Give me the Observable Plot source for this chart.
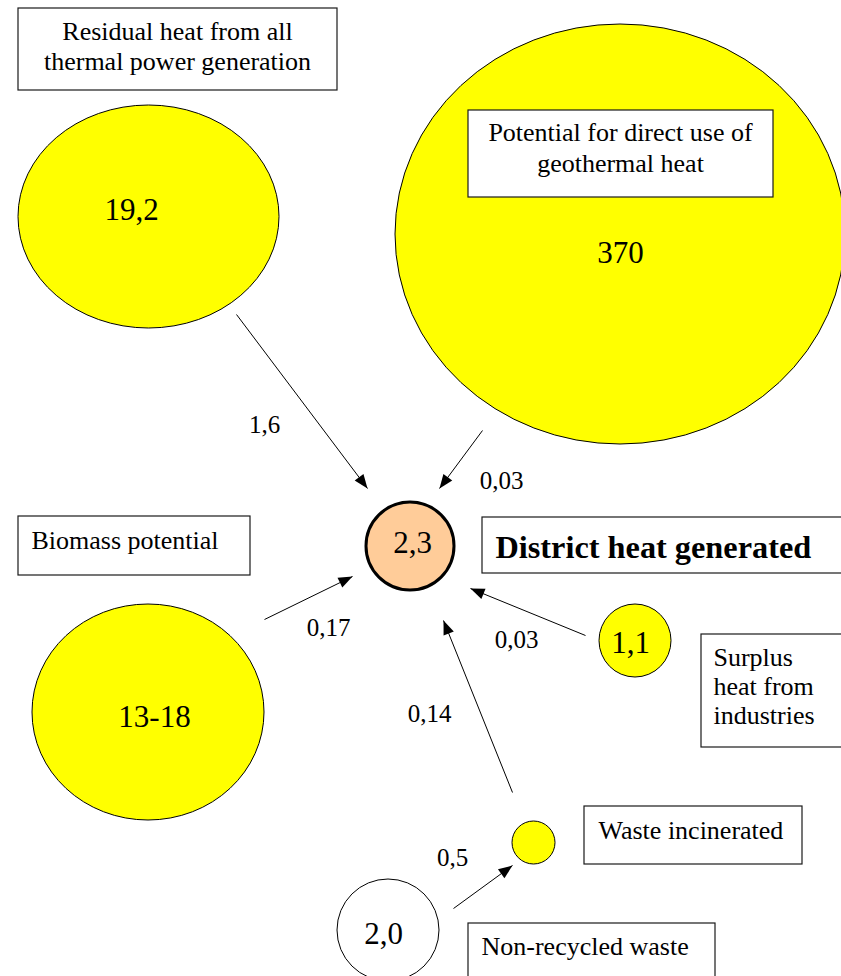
<!DOCTYPE html>
<html>
<head>
<meta charset="utf-8">
<script src="https://cdn.jsdelivr.net/npm/d3@7"></script>
<script src="https://cdn.jsdelivr.net/npm/@observablehq/plot@0.6"></script>
<style>
  html, body { margin: 0; padding: 0; background: #fff; overflow: hidden; }
</style>
</head>
<body>
<div id="chart"></div>
<script>
// ---- Data (values and texts) ----
const nodes = ["residual", "geothermal", "district", "biomass", "surplus", "waste", "nonrecycled"];
const nodeTitles = [
  "Residual heat from all\nthermal power generation",
  "Potential for direct use of\ngeothermal heat",
  "District heat generated",
  "Biomass potential",
  "Surplus\nheat from\nindustries",
  "Waste incinerated",
  "Non-recycled waste"
];
const nodeValues = ["19,2", "370", "2,3", "13-18", "1,1", "", "2,0"];
const flowSources = ["residual", "geothermal", "biomass", "surplus", "waste", "nonrecycled"];
const flowTargets = ["district", "district", "district", "district", "district", "waste"];
const flowValues = ["1,6", "0,03", "0,17", "0,03", "0,14", "0,5"];

// ---- Layout (positions, sizes, styles) ----
const bubbleLayout = {
  residual:    {cx: 148.5, cy: 216.5, rx: 130.5, ry: 111.5, fill: "#ffff00", sw: 1, tx: 131, ty: 210},
  geothermal:  {cx: 620,   cy: 234,   rx: 225,   ry: 210,   fill: "#ffff00", sw: 1, tx: 620, ty: 253},
  district:    {cx: 410,   cy: 546,   rx: 44,    ry: 44,    fill: "#ffcc99", sw: 3, tx: 412, ty: 543},
  biomass:     {cx: 148,   cy: 712,   rx: 116,   ry: 108,   fill: "#ffff00", sw: 1, tx: 154, ty: 717},
  surplus:     {cx: 635,   cy: 640.5, rx: 36,    ry: 36.5,  fill: "#ffff00", sw: 1, tx: 630, ty: 643},
  waste:       {cx: 533.5, cy: 842.5, rx: 21.5,  ry: 21.5,  fill: "#ffff00", sw: 1, tx: 533, ty: 842},
  nonrecycled: {cx: 388,   cy: 930,   rx: 51,    ry: 51,    fill: "#ffffff", sw: 1, tx: 383, ty: 934}
};
const boxLayout = {
  residual:    {x1: 18,  y1: 8,   x2: 337, y2: 90,  tx: 177, ty: 45,  anchor: "middle", size: 26, lh: 1.16, weight: "normal"},
  geothermal:  {x1: 468, y1: 110, x2: 773, y2: 197, tx: 620, ty: 146.5, anchor: "middle", size: 26, lh: 1.19, weight: "normal"},
  district:    {x1: 482, y1: 517, x2: 870, y2: 573, tx: 495, ty: 545, anchor: "start", size: 32.3, lh: 1.2, weight: "bold"},
  biomass:     {x1: 18,  y1: 516, x2: 250, y2: 575, tx: 31,  ty: 539, anchor: "start", size: 26, lh: 1.2,  weight: "normal"},
  surplus:     {x1: 701, y1: 634, x2: 870, y2: 747, tx: 713, ty: 685, anchor: "start", size: 26, lh: 1.13, weight: "normal"},
  waste:       {x1: 584, y1: 806, x2: 802, y2: 864, tx: 598, ty: 829, anchor: "start", size: 26, lh: 1.2,  weight: "normal"},
  nonrecycled: {x1: 468, y1: 923, x2: 715, y2: 1000, tx: 481, ty: 945, anchor: "start", size: 26, lh: 1.2, weight: "normal"}
};
const arrowLayout = [
  {x1: 236, y1: 314, x2: 367, y2: 488, lx: 264, ly: 424},
  {x1: 482, y1: 430, x2: 439, y2: 488, lx: 501, ly: 480},
  {x1: 264, y1: 619, x2: 352, y2: 576, lx: 328, ly: 627},
  {x1: 585, y1: 635, x2: 470, y2: 588, lx: 516, ly: 639},
  {x1: 512, y1: 792, x2: 443, y2: 620, lx: 429, ly: 713},
  {x1: 453, y1: 908, x2: 512, y2: 865, lx: 452, ly: 857}
];

const FONT = "'Liberation Serif', 'Times New Roman', Times, serif";

// ---- Tables built from the arrays ----
const bubbles = nodes.map((n, i) => ({node: n, value: nodeValues[i], ...bubbleLayout[n]}));
const boxes = nodes.map((n, i) => ({node: n, title: nodeTitles[i], ...boxLayout[n]}));
const flows = flowValues.map((v, i) => ({
  source: flowSources[i], target: flowTargets[i], value: v, ...arrowLayout[i],
  angle: Math.atan2(arrowLayout[i].x2 - arrowLayout[i].x1, -(arrowLayout[i].y2 - arrowLayout[i].y1)) * 180 / Math.PI
}));

// Narrow filled arrowhead, tip at origin pointing up
const arrowHead = {
  draw(context, size) {
    const L = 14, W = 5.5;
    context.moveTo(0, 0);
    context.lineTo(W, L);
    context.lineTo(-W, L);
    context.closePath();
  }
};

function ellipseRender(index, scales, values, dimensions, context) {
  const g = d3.create("svg:g");
  for (const i of index) {
    const d = bubbles[i];
    const cx = values.x[i], cy = values.y[i];
    g.append("ellipse")
      .attr("cx", cx).attr("cy", cy)
      .attr("rx", Math.abs(scales.x(d.cx + d.rx) - cx))
      .attr("ry", Math.abs(scales.y(d.cy + d.ry) - cy))
      .attr("fill", d.fill)
      .attr("stroke", "#000")
      .attr("stroke-width", d.sw);
  }
  return g.node();
}

const marks = [
  // bubbles
  Plot.dot(bubbles, {x: "cx", y: "cy", r: 1, render: ellipseRender}),
  // boxes
  Plot.rect(boxes, {x1: "x1", x2: "x2", y1: "y1", y2: "y2", fill: "#fff", stroke: "#1a1a1a", strokeWidth: 1.2}),
  // box titles
  ...boxes.map(b => Plot.text([b], {
    x: "tx", y: "ty", text: "title", textAnchor: b.anchor, lineAnchor: "middle",
    lineHeight: b.lh, fontSize: b.size, fontWeight: b.weight, fontFamily: FONT, fill: "#000"
  })),
  // bubble values
  Plot.text(bubbles.filter(d => d.value), {
    x: "tx", y: "ty", text: "value", textAnchor: "middle", lineAnchor: "middle",
    fontSize: 31, fontFamily: FONT, fill: "#000"
  }),
  // flow lines
  Plot.link(flows, {x1: "x1", y1: "y1", x2: "x2", y2: "y2", stroke: "#000", strokeWidth: 1}),
  // arrow heads
  Plot.dot(flows, {x: "x2", y: "y2", rotate: "angle", symbol: arrowHead, r: 5, fill: "#000", stroke: "none"}),
  // flow values
  Plot.text(flows, {
    x: "lx", y: "ly", text: "value", textAnchor: "middle", lineAnchor: "middle",
    fontSize: 25, fontFamily: FONT, fill: "#000"
  })
];

const chart = Plot.plot({
  width: 841,
  height: 976,
  margin: 0,
  x: {domain: [0, 841], range: [0, 841], axis: null},
  y: {domain: [0, 976], range: [0, 976], axis: null},
  style: {background: "#fff", overflow: "hidden"},
  marks
});
document.getElementById("chart").appendChild(chart);
</script>
</body>
</html>
